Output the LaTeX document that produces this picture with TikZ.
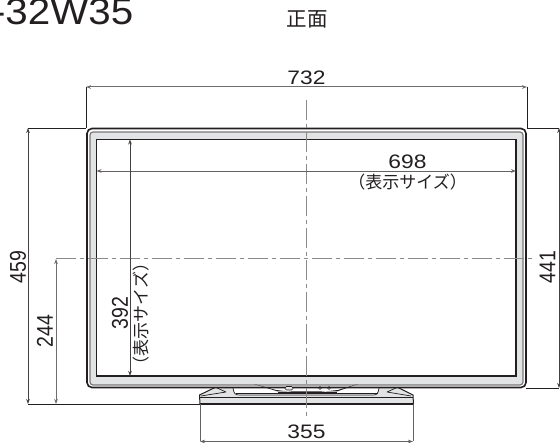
\documentclass[tikz,border=0pt]{standalone}
\usepackage{fontspec}
\setmainfont{Liberation Sans}
\newfontfamily\cjk{Noto Sans CJK JP}
\usetikzlibrary{arrows.meta}
\definecolor{ink}{HTML}{231F20}
\definecolor{band}{HTML}{E2E3E4}
\definecolor{midg}{HTML}{8A8A8A}
\tikzset{
  dimtext/.style={inner sep=0pt,text=ink,font=\fontsize{19.5}{20}\selectfont,xscale=1.17},
  dimtextv/.style={inner sep=0pt,text=ink,font=\fontsize{19.5}{20}\selectfont,rotate=90,yscale=1.17},
  cjklabel/.style={inner sep=0pt,text=ink,font=\cjk\fontsize{17}{18}\selectfont},
  dimline/.style={draw=ink!85,line width=0.75pt,{Stealth[length=5pt,width=3.6pt]}-{Stealth[length=5pt,width=3.6pt]}},
  extline/.style={draw=ink,line width=0.7pt},
  axisline/.style={draw=midg,line width=1pt,dash pattern=on 20pt off 4pt on 4pt off 4pt},
  thinoutline/.style={draw=ink,line width=0.7pt,line join=round}
}
\begin{document}
\begin{tikzpicture}[x=1pt,y=-1pt]
\useasboundingbox (0,0) rectangle (560,443);
\clip (0,0) rectangle (560,443);
\fill[white] (0,0) rectangle (560,443);
% stand (behind the panel)
\filldraw[fill=band,thinoutline,line width=1pt] (200,404.5) -- (199.5,395) -- (216,387) -- (397,387) -- (413,395) -- (413.5,404.5) -- cycle;
\fill[white] (233,388) .. controls (234,394) and (235,395) .. (240,395) -- (373,395) .. controls (377,395) and (378,394) .. (379,388) -- cycle;
\draw[thinoutline] (233,388) .. controls (234,394) and (235,395) .. (240,395) -- (373,395) .. controls (377,395) and (378,394) .. (379,388);
\draw[thinoutline] (236,393) -- (378,393);
\draw[thinoutline] (216,387.5) -- (226,392) -- (201,396) (397,387.5) -- (387,392) -- (411,396);
\draw[thinoutline] (199.5,397) -- (413,397);
\draw[draw=ink,line width=2pt] (200,404.5) -- (413.5,404.5);
% panel
\filldraw[fill=white,draw=ink,line width=1.6pt,rounded corners=5pt] (87,128.5) -- (526,128.5) -- (526,387.5) -- (87,387.5) -- cycle;
\filldraw[fill=band,draw=ink!60,line width=1.2pt,rounded corners=3pt] (90,132) rectangle (523,385);
\filldraw[fill=white,draw=ink,line width=1.3pt] (96.5,139.5) rectangle (516,376);
% lower centre bezel detail
\fill[ink] (254,384) -- (278,391.5) -- (337,391.5) -- (358,384) -- (338,390) -- (306,393.5) -- (276,390) -- cycle;
\draw[draw=ink,line width=2pt] (278,393) -- (337,393);
\draw[thinoutline,fill=band,rounded corners=1.5pt] (285,386.5) rectangle (293,390);
\draw[thinoutline] (320,388) circle (1.5pt) (329,388) circle (1.5pt);
% centre lines
\coordinate (cv1) at (306.5,100);
\coordinate (cv2) at (306.5,420);
\coordinate (ch1) at (56,259);
\coordinate (ch2) at (536,259);
\draw[axisline] (cv1) -- (cv2);
\draw[axisline] (ch1) -- (ch2);
% anchor coordinates
\coordinate (wL) at (86,87);
\coordinate (wR) at (527,87);
\coordinate (wLb) at (86,128);
\coordinate (wRb) at (527,128);
\coordinate (hT) at (28,128);
\coordinate (hB) at (28,404);
\coordinate (cT) at (56,259);
\coordinate (cB) at (56,404);
\coordinate (rT) at (559,128);
\coordinate (rB) at (559,388);
\coordinate (sL) at (96.5,171);
\coordinate (sR) at (516,171);
\coordinate (vT) at (130,139.5);
\coordinate (vB) at (130,376);
\coordinate (bL) at (200,441.5);
\coordinate (bR) at (413,441.5);
\coordinate (bLt) at (200,404);
\coordinate (bRt) at (413,404);
\coordinate (floorL) at (526,388);
% extension lines
\draw[extline] (wL) -- (wLb);
\draw[extline] (wR) -- (wRb);
\draw[extline] (hT) -- (wLb);
\draw[extline] (wRb) -- (rT);
\draw[extline] (hB) -- (bLt);
\draw[extline] (floorL) -- (rB);
\draw[extline,draw=ink!70] (bLt) -- (bL);
\draw[extline,draw=ink!70] (bRt) -- (bR);
% dimensions
\draw[dimline,draw=ink!65,line width=1pt] (wL) -- (wR);
\draw[dimline] (hT) -- (hB);
\draw[dimline,draw=ink!65,line width=1pt] (cT) -- (cB);
\draw[dimline] (rT) -- (rB);
\draw[dimline,draw=ink!70] (sL) -- (sR);
\draw[dimline] (vT) -- (vB);
\draw[dimline,draw=ink!70] (bL) -- (bR);
% labels
\node[dimtext] (t732) at (306.5,78) {732};
\node[dimtext] (t698) at (407.5,161.5) {698};
\node[cjklabel] (t698s) at (407.5,182) {（表示サイズ）};
\node[dimtextv] (t459) at (18,267) {459};
\node[dimtextv] (t244) at (45,331) {244};
\node[dimtextv] (t392) at (120,313) {392};
\node[cjklabel,rotate=90] (t392s) at (141,314) {（表示サイズ）};
\node[dimtextv] (t441) at (547.5,267) {441};
\node[dimtext] (t355) at (306.5,432) {355};
\node[inner sep=0pt,text=ink,font=\cjk\fontsize{20.5}{21}\selectfont] (front) at (307,19) {正面};
\node[inner sep=0pt,text=ink,font=\fontsize{37}{37}\selectfont,xscale=1.09,anchor=base east] (title) at (133.5,25) {-32W35};
\end{tikzpicture}
\end{document}
